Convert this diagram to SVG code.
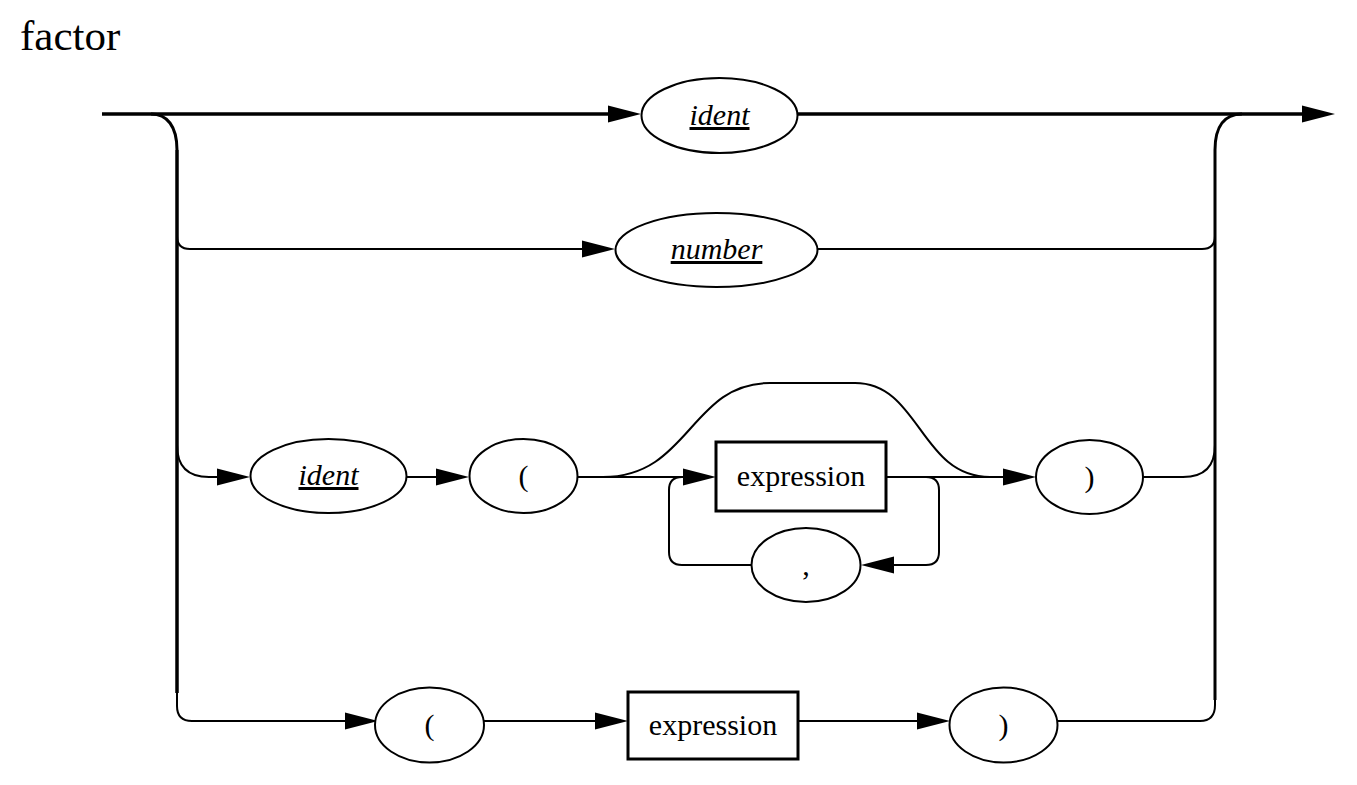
<svg xmlns="http://www.w3.org/2000/svg" width="1357" height="785" viewBox="0 0 1357 785">
<style>
  .ln { fill: none; stroke: #000; stroke-width: 2; }
  .thick { fill: none; stroke: #000; stroke-width: 3.5; }
  .mid { fill: none; stroke: #000; stroke-width: 3; }
  .term { fill: #fff; stroke: #000; stroke-width: 2; }
  .nt { fill: #fff; stroke: #000; stroke-width: 3; }
  .lbl { font-family: "Liberation Serif", "Times New Roman", serif; font-size: 30px; fill: #000; text-anchor: middle; }
  .it { font-style: italic; text-decoration: underline; }
  .title { font-family: "Liberation Serif", "Times New Roman", serif; font-size: 43px; fill: #000; }
</style>
<defs>
  <marker id="ah" markerUnits="userSpaceOnUse" markerWidth="34" markerHeight="18" refX="0" refY="8.5" orient="auto" viewBox="0 0 34 17">
    <path d="M0,0 L33,8.5 L0,17 Z" fill="#000"/>
  </marker>
</defs>
<rect width="1357" height="785" fill="#fff"/>
<text class="title" x="20" y="50">factor</text>

<g id="connectors">
  <!-- main line -->
  <path class="thick" d="M102,114 H608" marker-end="url(#ah)"/>
  <path class="thick" d="M797,114 H1302" marker-end="url(#ah)"/>
  <!-- left rail -->
  <path class="mid" d="M151,114 C167,114 177,126 177,150"/>
  <path class="thick" d="M177,150 V693"/>
  <path class="ln" d="M177,692 V706 Q177,721 192,721 H345" marker-end="url(#ah)"/>
  <path class="ln" d="M177,236 Q177,249 190,249 H582" marker-end="url(#ah)"/>
  <path class="ln" d="M177,445 Q177,477 209,477 H217" marker-end="url(#ah)"/>
  <!-- right rail -->
  <path class="mid" d="M1242,114 C1225,114 1215,126 1215,150 V700"/>
  <path class="ln" d="M1215,698 V705 Q1215,721 1200,721 H1057"/>
  <path class="ln" d="M817,249 H1202 Q1215,249 1215,236"/>
  <path class="ln" d="M1143,477 H1183 Q1215,477 1215,445"/>
  <!-- row 3 -->
  <path class="ln" d="M406,477 H436" marker-end="url(#ah)"/>
  <path class="ln" d="M578,477 H683" marker-end="url(#ah)"/>
  <path class="ln" d="M603,477 C690,477 690,383 770,383 H855 C920,383 920,477 990,477 H1003" marker-end="url(#ah)"/>
  <path class="ln" d="M886,477 H1003"/>
  <path class="ln" d="M886,477 H926 Q939,477 939,490 V552 Q939,565 926,565 H894" marker-end="url(#ah)"/>
  <path class="ln" d="M752,565 H682 Q669,565 669,552 V490 Q669,477 682,477 H684"/>
  <!-- row 4 -->
  <path class="ln" d="M483,721 H595" marker-end="url(#ah)"/>
  <path class="ln" d="M798,721 H917" marker-end="url(#ah)"/>
</g>

<g id="n-ident1">
  <ellipse class="term" cx="719.5" cy="115.5" rx="78" ry="37.5"/>
  <text class="lbl it" x="719.5" y="125">ident</text>
</g>
<g id="n-number">
  <ellipse class="term" cx="716.5" cy="250" rx="101" ry="37"/>
  <text class="lbl it" x="716.5" y="259">number</text>
</g>
<g id="n-ident2">
  <ellipse class="term" cx="328.5" cy="476" rx="78" ry="37"/>
  <text class="lbl it" x="328.5" y="485">ident</text>
</g>
<g id="n-lparen1">
  <ellipse class="term" cx="523.5" cy="476" rx="54" ry="37"/>
  <text class="lbl" x="523.5" y="486">(</text>
</g>
<g id="n-expr1">
  <rect class="nt" x="716" y="442" width="170" height="69"/>
  <text class="lbl" x="801" y="486">expression</text>
</g>
<g id="n-rparen1">
  <ellipse class="term" cx="1089.5" cy="477" rx="53.5" ry="37"/>
  <text class="lbl" x="1089.5" y="487">)</text>
</g>
<g id="n-comma">
  <ellipse class="term" cx="806" cy="565" rx="54.5" ry="37"/>
  <text class="lbl" x="806" y="575">,</text>
</g>
<g id="n-lparen2">
  <ellipse class="term" cx="429.5" cy="725" rx="54.5" ry="37.5"/>
  <text class="lbl" x="429.5" y="735">(</text>
</g>
<g id="n-expr2">
  <rect class="nt" x="628" y="692" width="170" height="67"/>
  <text class="lbl" x="713" y="735">expression</text>
</g>
<g id="n-rparen2">
  <ellipse class="term" cx="1003.5" cy="725" rx="54" ry="37.5"/>
  <text class="lbl" x="1003.5" y="735">)</text>
</g>
</svg>
